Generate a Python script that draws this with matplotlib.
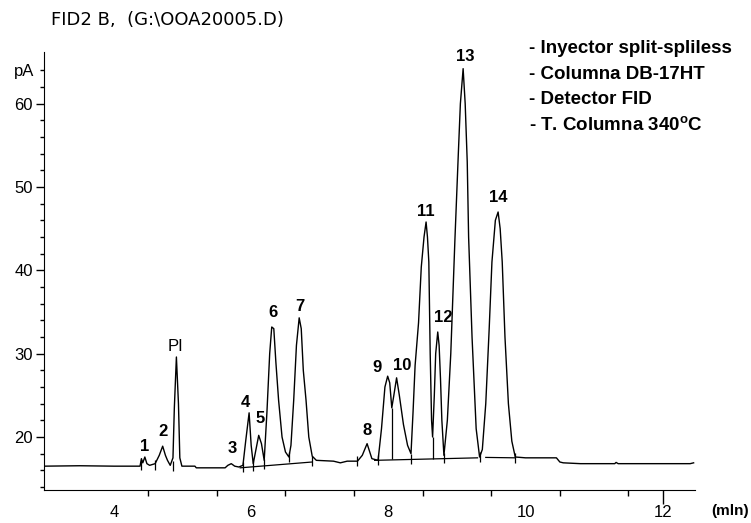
import numpy as np
import matplotlib
matplotlib.use("Agg")
import matplotlib.pyplot as plt

plt.rcParams['font.family'] = ['Liberation Sans', 'DejaVu Sans']
plt.rcParams['mathtext.fontset'] = 'custom'
plt.rcParams['mathtext.bf'] = 'Liberation Sans:bold'

# -------------------------------------------------
# DATA
# -------------------------------------------------
# signal trace: retention time (min), signal (pA)
t_signal = [
    2.98, 3.5, 4.0, 4.38,
    4.40, 4.42, 4.45, 4.48, 4.52,                    # 1
    4.60, 4.66, 4.71, 4.75, 4.78, 4.82,              # 2
    4.86, 4.88, 4.91, 4.94, 4.96, 4.99,              # PI
    5.18, 5.20, 5.62,
    5.66, 5.71, 5.76, 5.82,                          # 3
    5.88, 5.92, 5.97, 6.00, 6.03,                    # 4
    6.07, 6.11, 6.15, 6.19,                          # 5
    6.23, 6.27, 6.30, 6.33, 6.36, 6.40, 6.45, 6.50, 6.55,   # 6
    6.58, 6.62, 6.66, 6.70, 6.73, 6.76, 6.80, 6.84, 6.89,   # 7
    6.95, 7.20, 7.30, 7.40, 7.55,
    7.62, 7.69, 7.76, 7.85,                          # 8
    7.90, 7.95, 7.99, 8.02, 8.05,                    # 9
    8.08, 8.12, 8.16, 8.22, 8.28, 8.33,              # 10
    8.36, 8.39, 8.44, 8.48, 8.52, 8.55, 8.57, 8.59, 8.61, 8.63, 8.645,  # 11
    8.67, 8.69, 8.72, 8.74, 8.76, 8.78, 8.81,        # 12
    8.86, 8.91, 8.97, 9.02, 9.05, 9.09, 9.12, 9.15, 9.17, 9.22, 9.28, 9.33,  # 13
    9.37, 9.42, 9.47, 9.51, 9.56, 9.60, 9.63, 9.66, 9.70, 9.75, 9.80, 9.85,  # 14
    10.0, 10.45, 10.5, 10.55, 10.8, 11.3, 11.32, 11.35, 12.4, 12.45,
]
pa_signal = [
    16.5, 16.55, 16.5, 16.5,
    17.4, 16.9, 17.6, 16.8, 16.6,
    16.8, 17.8, 18.9, 17.8, 17.2, 16.6,
    17.5, 23.5, 29.6, 24.0, 17.5, 16.5,
    16.5, 16.3, 16.3,
    16.6, 16.8, 16.5, 16.4,
    16.6, 19.5, 22.9, 19.0, 16.8,
    18.5, 20.2, 19.2, 17.2,
    23.0, 30.0, 33.2, 33.0, 29.0, 24.4, 20.0, 18.2, 17.6,
    19.0, 24.4, 31.0, 34.3, 33.0, 28.0, 24.4, 20.0, 17.7,
    17.2, 17.1, 16.9, 17.1, 17.1,
    17.8, 19.2, 17.4, 17.2,
    21.0, 26.0, 27.3, 26.5, 23.5,
    25.0, 27.1, 25.0, 21.5, 19.0, 18.0,
    23.0, 28.6, 33.7, 40.4, 44.0, 45.8, 44.0, 41.0, 30.0, 22.0, 20.0,
    25.0, 30.0, 32.6, 31.0, 27.0, 22.0, 17.8,
    22.0, 30.0, 43.6, 54.0, 60.0, 64.2, 60.0, 53.0, 44.0, 32.0, 21.0, 17.6,
    18.5, 24.0, 33.0, 41.0, 46.0, 47.0, 45.0, 41.0, 32.0, 24.0, 19.5, 17.6,
    17.5, 17.5, 17.0, 16.9, 16.8, 16.8, 16.95, 16.8, 16.8, 16.9,
]

# integration baselines
base_t = [[5.84, 6.89], [7.80, 9.30], [9.42, 9.85]]
base_pa = [[16.3, 17.0], [17.2, 17.5], [17.55, 17.5]]

# peak start/stop markers
mark_t = [4.40, 4.60, 4.86, 5.88, 6.03, 6.19, 6.55, 6.89, 7.55, 7.85, 8.33, 8.81, 9.33, 9.85]
mark_pa = [16.6, 16.6, 16.5, 16.4, 16.5, 16.7, 17.6, 17.1, 17.1, 17.2, 17.3, 17.5, 17.6, 17.5]

# drop lines between fused peaks
drop_t = [8.05, 8.645]
drop_top = [23.5, 20.0]
drop_bot = [17.3, 17.4]

# peak labels
peak_names = ['1', '2', 'PI', '3', '4', '5', '6', '7', '8', '9', '10', '11', '12', '13', '14']
label_t = [4.45, 4.71, 4.90, 5.73, 5.92, 6.13, 6.32, 6.71, 7.69, 7.83, 8.20, 8.55, 8.80, 9.12, 9.60]
label_pa = [18.8, 20.7, 30.8, 18.6, 24.1, 22.2, 34.9, 35.6, 20.8, 28.3, 28.6, 47.0, 34.3, 65.7, 48.7]

conditions = [
    '- Inyector split-spliless',
    '- Columna DB-17HT',
    '- Detector FID',
    r'- T. Columna 340$^{\mathbf{o}}$C',
]

x_labels = [4, 6, 8, 10, 12]
y_labels = [20, 30, 40, 50, 60]

# -------------------------------------------------
# PLOT
# -------------------------------------------------
fig = plt.figure(figsize=(7.51, 5.23), dpi=100)
ax = fig.add_axes([0.0586, 0.0631, 0.8668, 0.8375])

ax.plot(t_signal, pa_signal, color='black', lw=1.0)
for bt, bp in zip(base_t, base_pa):
    ax.plot(bt, bp, color='black', lw=0.9)
ax.vlines(mark_t, np.array(mark_pa) - 0.6, np.array(mark_pa) + 0.6, color='black', lw=0.9)
ax.vlines(drop_t, drop_bot, drop_top, color='black', lw=0.9)

for name, t, p in zip(peak_names, label_t, label_pa):
    w = 'normal' if name == 'PI' else 'bold'
    ax.text(t, p, name, ha='center', va='center', fontsize=12, fontweight=w)

for i, line in enumerate(conditions):
    fig.text(0.704, 0.907 - i * 0.049, line, fontsize=13.5, fontweight='bold', va='center')

fig.text(0.068, 0.962, r'FID2 B,  (G:\OOA20005.D)', fontsize=13, va='center',
         family='DejaVu Sans')

ax.set_xlim(2.98, 12.47)
ax.set_ylim(13.64, 66.2)
ax.spines['top'].set_visible(False)
ax.spines['right'].set_visible(False)
ax.spines['left'].set_bounds(13.64, 66.2)

ax.set_xticks(x_labels)
ax.set_xticklabels([str(v) for v in x_labels], fontsize=12)
ax.set_xticks(list(np.arange(4.5, 12.0, 1.0)), minor=True)
ax.tick_params(axis='x', which='major', length=0, pad=11)
ax.tick_params(axis='x', which='minor', length=4, width=1)
ax.xaxis.get_major_ticks()[-1].tick1line.set_markersize(10)
ax.xaxis.get_major_ticks()[-1].tick1line.set_markeredgewidth(1)

ax.set_yticks(y_labels)
ax.set_yticklabels([str(v) for v in y_labels], fontsize=12)
ax.set_yticks(np.arange(14, 66, 2), minor=True)
ax.tick_params(axis='y', which='major', length=6, width=1, pad=2)
ax.tick_params(axis='y', which='minor', length=3, width=1)

ax.text(-0.03, 63.9, 'pA', transform=ax.get_yaxis_transform(), ha='center', va='center', fontsize=12)
ax.text(12.98, 11.9, '(mln)', ha='center', va='top', fontsize=11, fontweight='bold')

fig.savefig('out.png', dpi=100)
